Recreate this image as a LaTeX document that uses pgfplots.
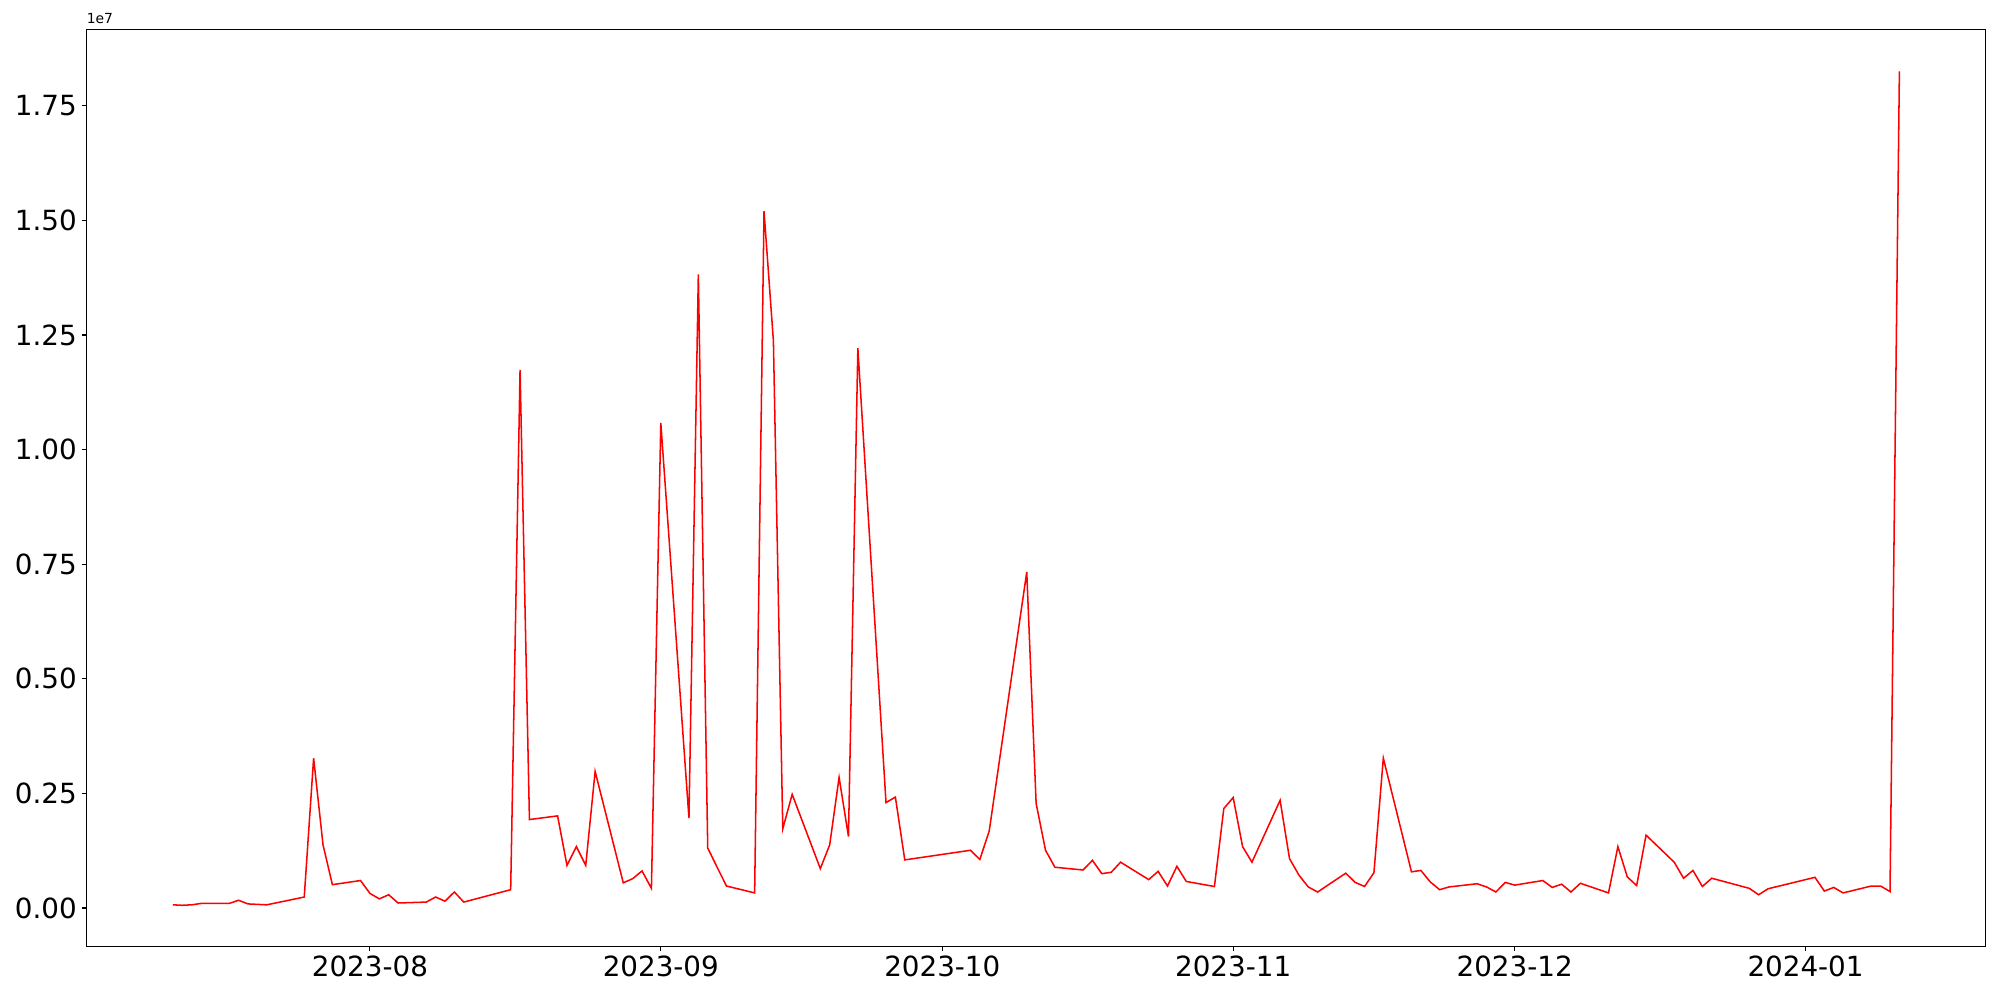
\documentclass[border=0pt]{standalone}
\usepackage{pgfplots}
\pgfplotsset{compat=1.18}
\usepackage{pgfplotstable}
\usepackage{fontspec}
\setmainfont{DejaVu Sans}

% day offset from 2023-08-01, value in millions
\pgfplotstableread{
d v
-21 0.07
-20 0.06
-19 0.07
-18 0.10
-15 0.10
-14 0.17
-13 0.09
-12 0.08
-11 0.07
-7 0.24
-6 3.27
-5 1.38
-4 0.51
-1 0.60
0 0.32
1 0.20
2 0.29
3 0.11
6 0.13
7 0.24
8 0.15
9 0.35
10 0.13
15 0.40
16 11.74
17 1.93
20 2.01
21 0.93
22 1.34
23 0.93
24 2.98
27 0.55
28 0.64
29 0.81
30 0.43
31 10.58
34 1.96
35 13.82
36 1.31
37 0.89
38 0.48
41 0.33
42 15.20
43 12.37
44 1.73
45 2.48
48 0.86
49 1.38
50 2.85
51 1.56
52 12.21
55 2.30
56 2.42
57 1.05
64 1.26
65 1.06
66 1.68
70 7.33
71 2.28
72 1.26
73 0.89
76 0.83
77 1.04
78 0.75
79 0.78
80 1.00
83 0.62
84 0.80
85 0.48
86 0.91
87 0.58
90 0.47
91 2.17
92 2.41
93 1.34
94 1.00
97 2.35
98 1.08
99 0.72
100 0.46
101 0.35
104 0.76
105 0.56
106 0.47
107 0.77
108 3.27
111 0.79
112 0.82
113 0.57
114 0.40
115 0.46
118 0.53
119 0.46
120 0.35
121 0.56
122 0.50
125 0.60
126 0.45
127 0.52
128 0.35
129 0.54
132 0.33
133 1.34
134 0.68
135 0.49
136 1.59
139 1.00
140 0.65
141 0.82
142 0.47
143 0.65
147 0.43
148 0.29
149 0.42
154 0.67
155 0.37
156 0.45
157 0.33
160 0.48
161 0.48
162 0.36
163 18.25
}\datatable

\begin{document}
\begin{tikzpicture}
\begin{axis}[
  name=ax,
  at={(0,0)}, anchor=south west,
  scale only axis,
  width=1367pt, height=660pt,
  xmin=-30.2, xmax=172.2,
  ymin=-0.083, ymax=1.917,
  xtick={0,31,61,92,122,153},
  xticklabels={2023-08,2023-09,2023-10,2023-11,2023-12,2024-01},
  ytick={0,0.25,0.5,0.75,1,1.25,1.5,1.75},
  scaled y ticks=false,
  yticklabel style={/pgf/number format/fixed,/pgf/number format/fixed zerofill,/pgf/number format/precision=2},
  /pgf/number format/assume math mode=true,
  tick label style={font=\fontsize{20}{24}\selectfont},
  tick align=outside,
  tick pos=left,
  major tick length=3.5pt,
  major tick style={line width=0.8pt, black},
  axis line style={line width=0.8pt},
  clip=true,
]
\addplot[color=red, line width=1.1pt, mark=none] table[x=d, y expr=\thisrow{v}/10] {\datatable};
\end{axis}
\node[anchor=south west, inner sep=0pt, font=\fontsize{10}{12}\selectfont] at ([yshift=4pt]ax.north west) {1e7};
\path[use as bounding box] (-62.3pt,-38.6pt) rectangle (1377.3pt,681pt);
\end{tikzpicture}
\end{document}
